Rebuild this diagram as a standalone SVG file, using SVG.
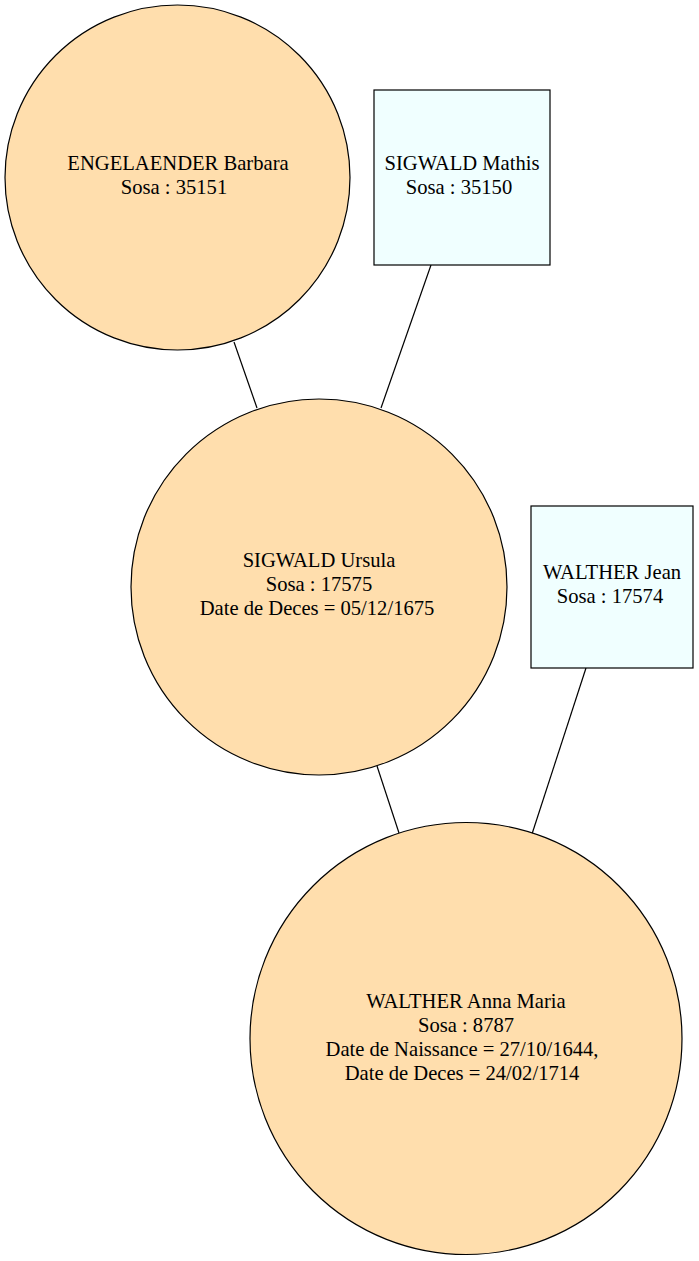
<svg xmlns="http://www.w3.org/2000/svg" width="699" height="1261" viewBox="0 0 699 1261">
<style>
.f{fill:#ffdead;stroke:#000;stroke-width:1.2}
.m{fill:#f0ffff;stroke:#000;stroke-width:1.2}
text{font-family:"Liberation Serif","Times New Roman",serif;font-size:20.6px;text-anchor:middle;fill:#000}
.e{stroke:#000;stroke-width:1.2;fill:none}
</style>
<rect width="699" height="1261" fill="#fff"/>
<g id="edges">
<line class="e" x1="234" y1="342" x2="257" y2="408"/>
<line class="e" x1="431" y1="265" x2="381" y2="408"/>
<line class="e" x1="377" y1="766" x2="399" y2="833"/>
<line class="e" x1="586" y1="668" x2="532" y2="834"/>
</g>
<g id="engelaender_barbara">
<circle class="f" cx="177.5" cy="177.5" r="172.5"/>
<text x="178" y="170">ENGELAENDER Barbara</text>
<text x="174" y="194">Sosa : 35151</text>
</g>
<g id="sigwald_mathis">
<rect class="m" x="374" y="90" width="176" height="175"/>
<text x="462" y="170">SIGWALD Mathis</text>
<text x="459" y="194">Sosa : 35150</text>
</g>
<g id="sigwald_ursula">
<circle class="f" cx="319" cy="587" r="188"/>
<text x="319" y="567">SIGWALD Ursula</text>
<text x="319" y="591">Sosa : 17575</text>
<text x="317" y="615">Date de Deces = 05/12/1675</text>
</g>
<g id="walther_jean">
<rect class="m" x="531" y="506" width="162" height="162"/>
<text x="612" y="579">WALTHER Jean</text>
<text x="610" y="603">Sosa : 17574</text>
</g>
<g id="walther_anna_maria">
<circle class="f" cx="466" cy="1038.5" r="216"/>
<text x="466" y="1008">WALTHER Anna Maria</text>
<text x="466" y="1032">Sosa : 8787</text>
<text x="462" y="1056">Date de Naissance = 27/10/1644,</text>
<text x="462" y="1080">Date de Deces = 24/02/1714</text>
</g>
</svg>
